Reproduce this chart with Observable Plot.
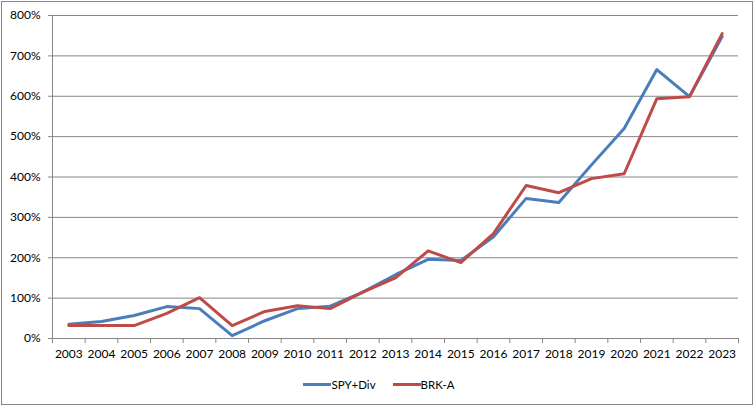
<!DOCTYPE html>
<html><head><meta charset="utf-8">
<script src="https://cdn.jsdelivr.net/npm/d3@7"></script>
<script src="https://cdn.jsdelivr.net/npm/@observablehq/plot@0.6"></script>
<style>
body{margin:0;background:#fff;}
#chart{position:absolute;left:1px;top:1px;width:752px;height:404px;box-sizing:border-box;border:1px solid #868686;background:#fff;font-family:Lato,sans-serif;}
#chart svg{position:absolute;left:0;top:0;}
#legend{position:absolute;left:2px;top:374px;width:100%;height:16px;display:flex;justify-content:center;align-items:center;gap:17px;font-size:11.5px;color:#000;font-family:Lato,sans-serif;}
.item{display:flex;align-items:center;gap:0px;}
.sw{display:inline-block;width:28px;height:3px;}
</style></head>
<body>
<div id="chart"><div id="legend"></div></div>
<script>
const years = [2003,2004,2005,2006,2007,2008,2009,2010,2011,2012,2013,2014,2015,2016,2017,2018,2019,2020,2021,2022,2023];
const spyDiv = [35,42,57,79,74,7,44,74,80,115,158,196,193,252,347,337,430,520,666,599,748];
const brkA = [32,32,32,62,101,32,67,81,74,115,150,217,188,260,379,361,396,408,594,599,755];
const yTicks = [0,100,200,300,400,500,600,700,800];
const seriesNames = ["SPY+Div","BRK-A"];
const seriesColors = ["#4A7EBB","#BE4B48"];

const spyData = years.map((y,i)=>({year:y, value:spyDiv[i]}));
const brkData = years.map((y,i)=>({year:y, value:brkA[i]}));
const xMin = years[0]-0.5, xMax = years[years.length-1]+0.5;
const bounds = years.map(y=>y-0.5).concat([xMax]);

const chart = Plot.plot({
  width: 750, height: 370,
  marginLeft: 50, marginRight: 14, marginTop: 13, marginBottom: 34,
  style: {fontFamily: "Lato, sans-serif", fontSize: "12px", color: "#000", background: "transparent"},
  x: {type: "linear", domain: [xMin, xMax]},
  y: {domain: [0, 800]},
  marks: [
    Plot.gridY(yTicks, {stroke: "#868686", strokeOpacity: 1}),
    Plot.ruleX([xMin], {stroke: "#868686"}),
    Plot.axisY(yTicks, {tickFormat: d => d + "%", tickSize: 4, tickPadding: 8, stroke: "#868686", label: null}),
    Plot.axisX(years, {tickSize: 0, tickPadding: 11, tickFormat: d => String(d), label: null}),
    Plot.axisX(bounds, {tickSize: 5, tickFormat: () => "", stroke: "#868686", label: null}),
    Plot.line(spyData, {x: "year", y: "value", stroke: seriesColors[0], strokeWidth: 3}),
    Plot.line(brkData, {x: "year", y: "value", stroke: seriesColors[1], strokeWidth: 3})
  ]
});
const box = document.getElementById("chart");
box.insertBefore(chart, box.firstChild);
const legend = document.getElementById("legend");
seriesNames.forEach((n,i)=>{
  const it = document.createElement("div"); it.className="item";
  const sw = document.createElement("span"); sw.className="sw"; sw.style.background = seriesColors[i];
  const t = document.createElement("span"); t.textContent = n;
  it.appendChild(sw); it.appendChild(t); legend.appendChild(it);
});
</script>
</body></html>
